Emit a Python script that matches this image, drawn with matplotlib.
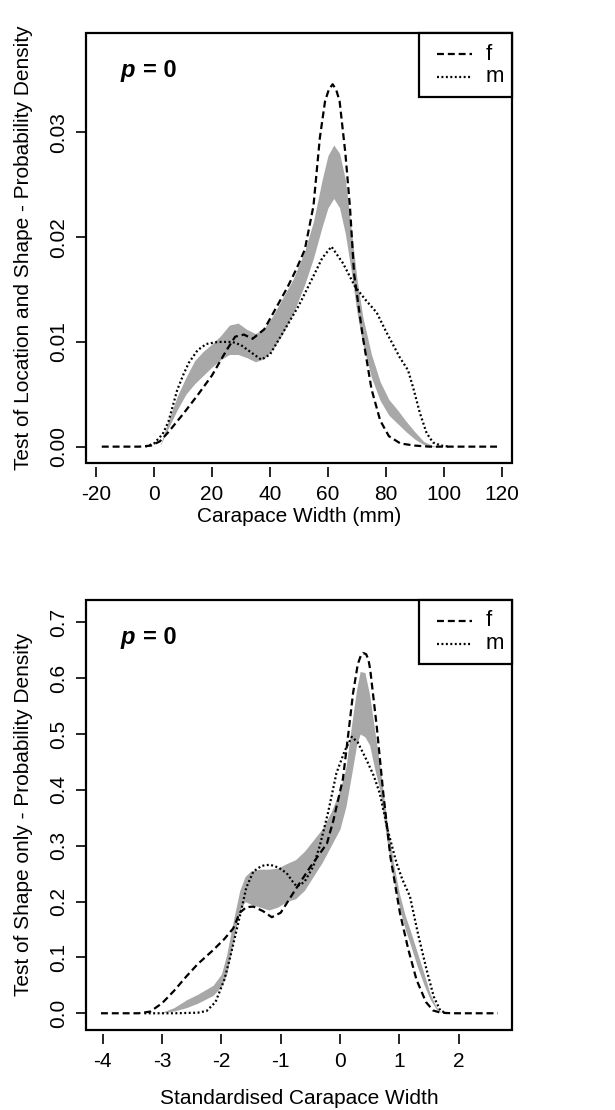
import matplotlib
matplotlib.use("Agg")
import matplotlib.pyplot as plt
from matplotlib.patches import Rectangle
from matplotlib.lines import Line2D

plt.rcParams['font.family'] = ['Liberation Sans', 'DejaVu Sans']
plt.rcParams['lines.scale_dashes'] = False

# ---------------- data: top panel (Carapace Width, mm) ----------------
top_f_x = [-18, -5, -1, 2, 5, 10, 15, 20, 25, 28, 31, 34, 38, 42, 46, 49, 52, 55, 57.2, 59,
           60.3, 61.6, 62.8, 64, 66, 67.6, 69, 72, 75, 78, 81, 85, 90, 95, 118.6]
top_f_y = [0, 0, 0.0001, 0.0005, 0.0014, 0.0031, 0.0049, 0.0068, 0.0092, 0.0105, 0.0107, 0.0103,
           0.0112, 0.0132, 0.0152, 0.0169, 0.0188, 0.0230, 0.0295, 0.0330, 0.0341, 0.0346,
           0.0341, 0.0330, 0.0280, 0.0228, 0.0165, 0.0105, 0.0055, 0.0025, 0.0010, 0.0003,
           0.0001, 0, 0]

top_m_x = [-3, 0, 3, 5, 8, 10, 12, 15, 18, 22, 27, 30, 33, 37, 40, 44.5, 50, 55, 58, 61.2,
           65.2, 69.3, 73, 76.8, 80, 84.8, 87.6, 89.5, 91.7, 94, 96.2, 99, 102]
top_m_y = [0, 0.0003, 0.0012, 0.0024, 0.0054, 0.0068, 0.0080, 0.0092, 0.0098, 0.0100, 0.0100,
           0.0097, 0.0091, 0.0083, 0.0088, 0.0109, 0.0135, 0.0163, 0.0180, 0.0191, 0.0175, 0.0153,
           0.0140, 0.0128, 0.0110, 0.0085, 0.0073, 0.0055, 0.0032, 0.0013, 0.0004, 0.0001, 0]

top_band_x = [2, 5, 8, 11, 14, 17, 20, 23, 26, 29, 32, 35, 38, 41, 44, 48, 52, 55, 58, 60, 62,
              64, 66, 68, 70, 72, 75, 78, 81, 84, 87, 90, 93, 96, 98]
top_band_lo = [0, 0.0018, 0.0035, 0.0050, 0.0060, 0.0068, 0.0076, 0.0083, 0.0088, 0.0088, 0.0085,
               0.0081, 0.0084, 0.0093, 0.0106, 0.0127, 0.0155, 0.0180, 0.0210, 0.0228, 0.0237,
               0.0228, 0.0203, 0.0168, 0.0128, 0.0098, 0.0066, 0.0044, 0.0030, 0.0022, 0.0014,
               0.0007, 0.0002, 0, 0]
top_band_hi = [0, 0.0025, 0.0048, 0.0066, 0.0082, 0.0091, 0.0098, 0.0106, 0.0116, 0.0118, 0.0112,
               0.0108, 0.0113, 0.0125, 0.0140, 0.0160, 0.0187, 0.0215, 0.0255, 0.0278, 0.0288,
               0.0280, 0.0255, 0.0208, 0.0160, 0.0124, 0.0088, 0.0062, 0.0045, 0.0035, 0.0024,
               0.0014, 0.0005, 0.0001, 0]

top_xticks = [-20, 0, 20, 40, 60, 80, 100, 120]
top_xticklabels = ["-20", "0", "20", "40", "60", "80", "100", "120"]
top_yticks = [0.00, 0.01, 0.02, 0.03]
top_yticklabels = ["0.00", "0.01", "0.02", "0.03"]

# ---------------- data: bottom panel (standardised) ----------------
bot_f_x = [-4.03, -3.4, -3.2, -3.0, -2.8, -2.59, -2.4, -2.14, -1.95, -1.8, -1.69, -1.58, -1.46,
           -1.3, -1.15, -1.0, -0.79, -0.68, -0.5, -0.22, -0.11, 0.05, 0.14, 0.22, 0.30, 0.35,
           0.39, 0.44, 0.48, 0.51, 0.62, 0.73, 0.85, 1.01, 1.15, 1.29, 1.45, 1.57, 1.7, 1.9, 2.66]
bot_f_y = [0, 0, 0.003, 0.018, 0.040, 0.066, 0.088, 0.113, 0.133, 0.152, 0.180, 0.190, 0.191,
           0.183, 0.172, 0.180, 0.215, 0.233, 0.262, 0.304, 0.346, 0.42, 0.50, 0.573, 0.625,
           0.640, 0.645, 0.643, 0.633, 0.615, 0.513, 0.394, 0.28, 0.18, 0.115, 0.06, 0.02, 0.005,
           0.001, 0, 0]

bot_m_x = [-3.3, -2.8, -2.4, -2.25, -2.1, -1.95, -1.85, -1.69, -1.58, -1.46, -1.32, -1.18, -1.04,
           -0.90, -0.80, -0.73, -0.6, -0.45, -0.34, -0.2, -0.06, 0.08, 0.20, 0.30, 0.45, 0.57,
           0.67, 0.8, 0.95, 1.05, 1.18, 1.32, 1.46, 1.58, 1.69, 1.8]
bot_m_y = [0, 0, 0.001, 0.004, 0.02, 0.06, 0.101, 0.173, 0.225, 0.254, 0.264, 0.266, 0.261,
           0.251, 0.236, 0.227, 0.235, 0.263, 0.30, 0.36, 0.43, 0.47, 0.495, 0.485, 0.453, 0.425,
           0.394, 0.33, 0.27, 0.24, 0.209, 0.14, 0.078, 0.03, 0.005, 0]

bot_band_x = [-3.05, -2.8, -2.59, -2.4, -2.14, -2.0, -1.91, -1.8, -1.69, -1.6, -1.5, -1.35, -1.2,
              -1.05, -0.9, -0.75, -0.6, -0.45, -0.3, -0.15, 0.0, 0.1, 0.2, 0.28, 0.34, 0.42,
              0.5, 0.58, 0.67, 0.79, 0.9, 1.0, 1.1, 1.18, 1.3, 1.42, 1.52, 1.62, 1.72]
bot_band_lo = [0, 0.004, 0.01, 0.018, 0.032, 0.048, 0.07, 0.128, 0.185, 0.20, 0.195, 0.19, 0.185,
               0.19, 0.20, 0.205, 0.22, 0.245, 0.27, 0.30, 0.33, 0.37, 0.43, 0.48, 0.50, 0.495,
               0.48, 0.44, 0.40, 0.31, 0.24, 0.19, 0.15, 0.125, 0.085, 0.05, 0.025, 0.008, 0]
bot_band_hi = [0, 0.01, 0.024, 0.034, 0.05, 0.07, 0.105, 0.165, 0.22, 0.245, 0.255, 0.258, 0.258,
               0.26, 0.268, 0.275, 0.29, 0.31, 0.33, 0.36, 0.40, 0.44, 0.52, 0.58, 0.612, 0.61,
               0.57, 0.51, 0.445, 0.345, 0.27, 0.215, 0.175, 0.15, 0.11, 0.07, 0.035, 0.012, 0]

bot_xticks = [-4, -3, -2, -1, 0, 1, 2]
bot_xticklabels = ["-4", "-3", "-2", "-1", "0", "1", "2"]
bot_yticks = [0.0, 0.1, 0.2, 0.3, 0.4, 0.5, 0.6, 0.7]
bot_yticklabels = ["0.0", "0.1", "0.2", "0.3", "0.4", "0.5", "0.6", "0.7"]

legend_labels = ["f", "m"]
p_text = "0"

# ---------------- styling ----------------
DASH = (0, (5.0, 2.8))
DOT = (0, (1.4, 1.8))
LW = 1.6
BAND = '#a8a8a8'
FS = 15

fig = plt.figure(figsize=(6.15, 11.10), dpi=100)


def panel(rect, xlim, ylim, fx, fy, mx, my, bx, blo, bhi, xt, xtl, yt, ytl, xlabel, ylabel,
          xlab_y):
    ax = fig.add_axes(rect)
    ax.fill_between(bx, blo, bhi, color=BAND, linewidth=0, zorder=1)
    ax.plot(fx, fy, color='black', lw=LW, linestyle=DASH, zorder=3)
    ax.plot(mx, my, color='black', lw=LW, linestyle=DOT, zorder=3)
    ax.set_xlim(*xlim)
    ax.set_ylim(*ylim)
    ax.set_xticks(xt)
    ax.set_xticklabels(xtl)
    ax.set_yticks(yt)
    ax.set_yticklabels(ytl, rotation=90, va='center')
    ax.tick_params(axis='both', direction='out', length=7.2, width=1.2, labelsize=FS,
                   color='black')
    ax.tick_params(axis='x', pad=6)
    ax.tick_params(axis='y', pad=6)
    ax.spines['bottom'].set_position(('outward', 3))
    for s in ax.spines.values():
        s.set_visible(False)
    ax.add_patch(Rectangle((0, 0), 1, 1, transform=ax.transAxes, fill=False,
                           edgecolor='black', lw=1.6, clip_on=False, zorder=5))
    ax.set_xlabel(xlabel, fontsize=FS)
    ax.set_ylabel(ylabel, fontsize=FS)
    ax.xaxis.set_label_coords(0.5, xlab_y)
    ax.yaxis.set_label_coords(-0.125, 0.5)

    # p = 0 annotation
    tp = ax.text(0.08, 0.912, "p", transform=ax.transAxes, fontsize=17, fontweight='bold',
                 fontstyle='italic', ha='left', va='center')
    ax.annotate("= " + p_text, xy=(1, 0), xycoords=tp, xytext=(6, 0),
                textcoords='offset points', fontsize=17, fontweight='bold', ha='left',
                va='bottom')

    # legend box
    ax.add_patch(Rectangle((0.7817, 0.851), 0.2183, 0.149, transform=ax.transAxes,
                           fill=True, facecolor='white', edgecolor='black', lw=1.6,
                           clip_on=False, zorder=6))
    rows = [0.951, 0.898]
    styles = [DASH, DOT]
    for lab, yy, ls in zip(legend_labels, rows, styles):
        ax.add_line(Line2D([0.824, 0.906], [yy, yy], transform=ax.transAxes, color='black',
                           lw=LW, linestyle=ls, zorder=7))
        ax.text(0.937, yy, lab, transform=ax.transAxes, fontsize=16, ha='left', va='center',
                zorder=7)
    return ax


panel([0.1398, 0.5829, 0.6927, 0.3874], (-23.45, 123.45), (-0.00156, 0.0395),
      top_f_x, top_f_y, top_m_x, top_m_y, top_band_x, top_band_lo, top_band_hi,
      top_xticks, top_xticklabels, top_yticks, top_yticklabels,
      "Carapace Width (mm)", "Test of Location and Shape - Probability Density", -0.103)

panel([0.1398, 0.0721, 0.6927, 0.3877], (-4.283, 2.90), (-0.0299, 0.7406),
      bot_f_x, bot_f_y, bot_m_x, bot_m_y, bot_band_x, bot_band_lo, bot_band_hi,
      bot_xticks, bot_xticklabels, bot_yticks, bot_yticklabels,
      "Standardised Carapace Width", "Test of Shape only - Probability Density", -0.137)

fig.savefig("out.png", dpi=100, facecolor='white')
